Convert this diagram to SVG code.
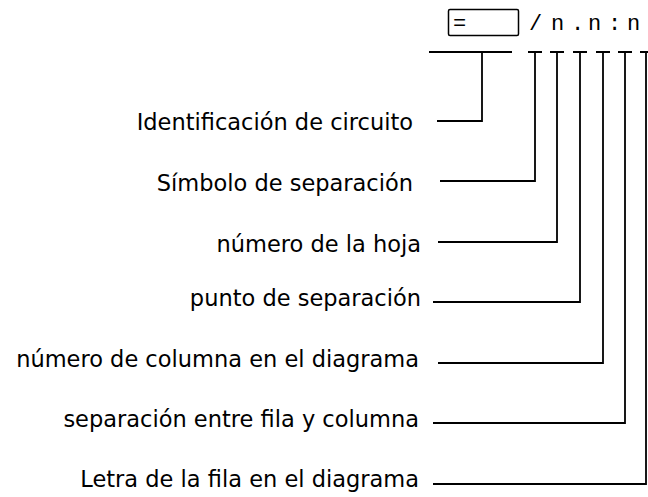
<svg xmlns="http://www.w3.org/2000/svg" width="648" height="497" viewBox="0 0 648 497">
<style>
.lbl{font-family:"DejaVu Sans","Liberation Sans",sans-serif;font-size:22.5px;fill:#000;text-anchor:end}
.mono{font-family:"Liberation Mono","DejaVu Sans Mono",monospace;font-size:22px;fill:#000}
.ln{fill:none;stroke:#000;stroke-width:1.8}
</style>
<rect width="648" height="497" fill="#fff"/>
<g id="code">
<rect x="448.5" y="9.5" width="70" height="26" rx="1.5" fill="none" stroke="#000" stroke-width="1.5"/>
<text class="mono" x="453" y="30">=</text>
<text class="mono" x="529 551 571 588 608 627" y="30">/n.n:n</text>
</g>
<g id="bars">
<path class="ln" d="M429 52H512M528 52H542M550 52H564M573 52H587M596 52H610M618 52H632M640 52H648"/>
</g>
<g id="n1"><text class="lbl" x="413" y="130">Identificación de circuito</text></g>
<g id="n2"><text class="lbl" x="413" y="191">Símbolo de separación</text></g>
<g id="n3"><text class="lbl" x="421" y="252">número de la hoja</text></g>
<g id="n4"><text class="lbl" x="421" y="306">punto de separación</text></g>
<g id="n5"><text class="lbl" x="419" y="367">número de columna en el diagrama</text></g>
<g id="n6"><text class="lbl" x="419" y="427">separación entre fila y columna</text></g>
<g id="n7"><text class="lbl" x="419" y="487">Letra de la fila en el diagrama</text></g>
<g id="connectors">
<path class="ln" d="M482 52V121H437"/>
<path class="ln" d="M535 52V181H440"/>
<path class="ln" d="M557 52V242H438"/>
<path class="ln" d="M580 52V302H433"/>
<path class="ln" d="M603 52V363H438"/>
<path class="ln" d="M625 52V423H433"/>
<path class="ln" d="M646 52V484H433"/>
</g>
</svg>
